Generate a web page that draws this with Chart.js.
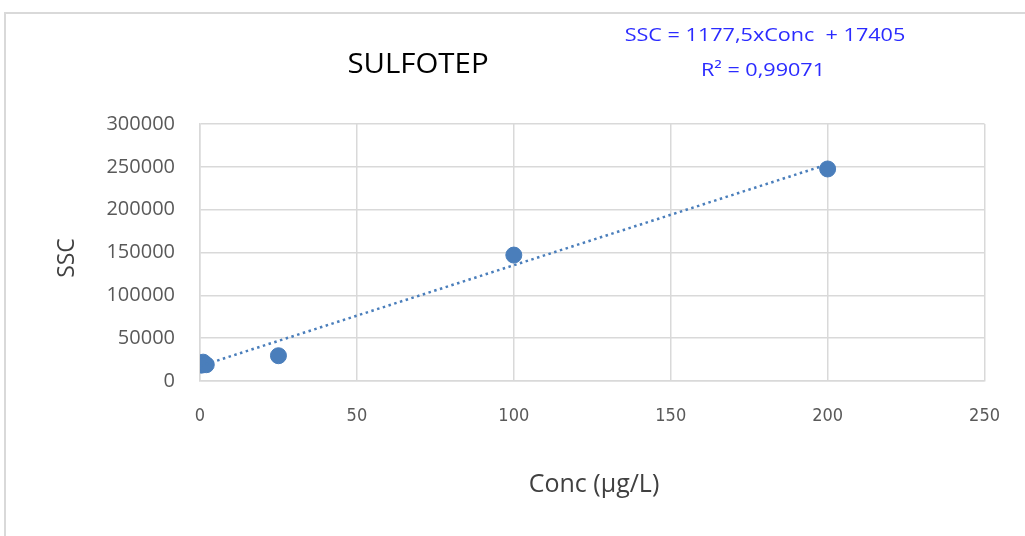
<!DOCTYPE html>
<html>
<head>
<meta charset="utf-8">
<script src="https://cdn.jsdelivr.net/npm/chart.js@4.4.1/dist/chart.umd.min.js"></script>
<style>
  html, body { margin: 0; padding: 0; background: #fff; }
  #wrap { position: relative; width: 1025px; height: 536px; overflow: hidden; }
  #frame { position: absolute; left: 4px; top: 12px; width: 1040px; height: 560px; border: 2px solid #d9d9d9; box-sizing: border-box; }
  canvas { position: absolute; left: 0; top: 0; }
</style>
</head>
<body>
<div id="wrap">
  <div id="frame"></div>
  <canvas id="calib" width="1025" height="536"></canvas>
</div>
<script>
const concValues = [0.5, 1, 2, 25, 100, 200];
const sscValues = [18500, 22000, 19000, 29500, 147000, 247500];
const trendConc = [0, 200];
const trendSsc = [17405, 252905];
const xTicks = [0, 50, 100, 150, 200, 250];
const yTicks = [0, 50000, 100000, 150000, 200000, 250000, 300000];

const chartTitle = 'SULFOTEP';
const equationText = 'SSC = 1177,5xConc  + 17405';
const r2Text = 'R² = 0,99071';

const font = '"Open Sans", "Noto Sans", sans-serif';
const narrow = '"Liberation Sans Narrow", "DejaVu Sans Condensed", "Liberation Sans", sans-serif';

// text drawn with an optional horizontal stretch
function stretchText(ctx, txt, x, y, sx) {
    ctx.save();
    ctx.translate(x, y);
    ctx.scale(sx, 1);
    ctx.fillText(txt, 0, 0);
    ctx.restore();
}

const labels = {
    id: 'labels',
    afterDraw(chart) {
        const {ctx} = chart;
        ctx.save();
        ctx.textAlign = 'center';
        ctx.textBaseline = 'middle';
        ctx.fillStyle = '#000';
        ctx.font = '28px ' + font;
        stretchText(ctx, chartTitle, 418, 65, 1.05);
        ctx.fillStyle = '#2b2bff';
        ctx.font = '18px ' + font;
        stretchText(ctx, equationText, 765, 36, 1.2);
        stretchText(ctx, r2Text, 763, 71, 1.2);
        ctx.fillStyle = '#404040';
        ctx.font = '25px ' + font;
        ctx.fillText('Conc (μg/L)', 594, 485);
        ctx.translate(67, 258);
        ctx.rotate(-Math.PI / 2);
        ctx.font = '23px ' + font;
        ctx.fillText('SSC', 0, 0);
        ctx.restore();
    }
};

new Chart(document.getElementById('calib'), {
    type: 'scatter',
    data: {
        datasets: [{
            label: 'SSC',
            data: concValues.map((c, i) => ({x: c, y: sscValues[i]})),
            backgroundColor: '#4a7ebb',
            borderColor: '#4a7ebb',
            pointRadius: 8,
            order: 1
        }, {
            type: 'line',
            label: 'Trend',
            data: trendConc.map((c, i) => ({x: c, y: trendSsc[i]})),
            borderColor: '#4a7ebb',
            borderWidth: 2.5,
            borderDash: [2.5, 3.5],
            pointRadius: 0,
            fill: false,
            order: 0
        }]
    },
    options: {
        responsive: false,
        animation: false,
        layout: {padding: {left: 0, right: 39, top: 124, bottom: 0}},
        plugins: {legend: {display: false}, tooltip: {enabled: false}},
        scales: {
            x: {
                type: 'linear',
                min: 0, max: 250,
                afterBuildTicks(scale) { scale.ticks = xTicks.map(v => ({value: v})); },
                afterFit(scale) { scale.height = 155; },
                grid: {color: '#d9d9d9', lineWidth: 1.5, drawTicks: false},
                border: {color: '#d9d9d9', width: 1.5},
                ticks: {color: '#595959', padding: 25, font: {family: narrow, size: 18},
                        callback: v => String(v)}
            },
            y: {
                min: 0, max: 300000,
                afterBuildTicks(scale) { scale.ticks = yTicks.map(v => ({value: v})); },
                afterFit(scale) { scale.width = 200; },
                grid: {color: '#d9d9d9', lineWidth: 1.5, drawTicks: false},
                border: {color: '#d9d9d9', width: 1.5},
                ticks: {color: '#595959', padding: 25, font: {family: font, size: 20},
                        callback: v => String(v)}
            }
        }
    },
    plugins: [labels]
});
</script>
</body>
</html>
